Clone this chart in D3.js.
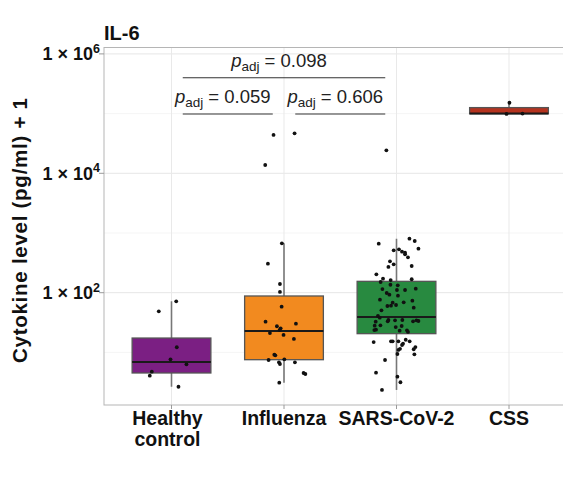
<!DOCTYPE html>
<html>
<head>
<meta charset="utf-8">
<script src="https://cdn.jsdelivr.net/npm/d3@7"></script>
<style>
  html, body { margin: 0; padding: 0; background: #fff; }
  svg { display: block; font-family: "Liberation Sans", Arial, Helvetica, sans-serif; }
</style>
</head>
<body>
<svg id="chart" width="563" height="477"></svg>
<script>
// ---------------- data ----------------
const title = "IL-6";
const yTitle = "Cytokine level (pg/ml) + 1";
const categories = ["Healthy\ncontrol", "Influenza", "SARS-CoV-2", "CSS"];
const fills = ["#7b1f83", "#f28a1f", "#288a40", "#b5331f"];

// box statistics (value + 1): [whiskerLow, q1, median, q3, whiskerHigh]
const boxHealthy   = [2.66, 4.52, 6.9, 17.4, 71.8];
const boxInfluenza = [3.11, 7.55, 22.8, 88.1, 672];
const boxSars      = [2.35, 20.6, 39.2, 155, 803];
const boxCss       = [98800, 99400, 100000, 126000, 152000];

// observations (value + 1) and horizontal jitter (category units)
const ptsHealthy = [71.8, 48.8, 12.2, 7.66, 6.32, 4.75, 4.07, 2.66];
const jitHealthy = [0.042, -0.113, 0.047, -0.009, 0.133, -0.175, -0.193, 0.062];

const ptsInfluenza = [43850, 46770, 13770, 672, 306, 140, 103, 58.3, 32.7, 30.3, 27.4, 25.3, 23.7,
  21.1, 19.6, 16.8, 9.15, 8.94, 7.46, 7.66, 6.82, 6.39, 6.82, 4.52, 4.35, 3.11];
const jitInfluenza = [-0.093, 0.094, -0.167, -0.019, -0.143, -0.036, -0.036, -0.021, -0.164, 0.106, -0.063, -0.030, -0.039,
  -0.125, -0.004, 0.088, -0.086, -0.077, -0.137, 0.003, -0.045, -0.036, 0.097, 0.174, 0.190, -0.042];

const ptsSars = [24270, 662, 803, 735, 546, 513, 533, 486, 468, 440, 392, 336, 270, 299, 280, 203, 172, 151, 163, 168,
  133, 136, 115, 111, 111, 117, 98.9, 92.5, 89.1, 76.3, 68.0, 69.0, 73.5, 59.9, 60.6, 62.2, 56.1, 50.7,
  40.7, 38.1, 32.7, 28.0, 28.4, 34.9, 33.2, 34.5, 34.9, 33.2, 34.5, 33.6, 24.0, 23.7, 26.6, 27.7, 23.1,
  23.4, 22.0, 15.3, 15.3, 15.3, 14.9, 14.0, 13.3, 16.3, 15.3, 11.5, 11.0, 12.3, 11.3, 9.29, 9.40, 7.46,
  4.57, 3.92, 3.16, 2.35];
const jitSars = [-0.090, -0.158, 0.115, 0.162, 0.195, -0.025, 0.022, 0.049, 0.076, 0.076, 0.102, -0.058, -0.072, -0.025, 0.135,
  -0.179, -0.120, -0.141, -0.052, 0.135, 0.011, -0.054, -0.125, 0.004, 0.076, 0.171, -0.087, -0.063, 0.013,
  -0.147, -0.034, 0.064, 0.141, -0.081, -0.049, -0.004, 0.153, -0.134, -0.165, -0.149, -0.185, -0.194,
  -0.143, -0.072, -0.078, -0.013, 0.052, 0.147, 0.177, 0.195, -0.182, -0.197, -0.007, 0.046, 0.028, 0.093,
  0.102, -0.049, -0.034, 0.017, -0.203, 0.058, 0.049, 0.082, 0.117, 0.031, 0.017, 0.168, 0.153, 0.159,
  0.008, -0.102, -0.182, 0.008, 0.035, -0.129];

const ptsCss = [152000, 98800, 100000];
const jitCss = [0.004, -0.022, 0.120];

// comparisons: group1 index, group2 index, p value, y position
const compFrom = [0, 1, 0];
const compTo   = [1, 2, 2];
const compP    = ["0.059", "0.606", "0.098"];
const compY    = [98500, 98500, 399000];

const yTicks = [1e2, 1e4, 1e6];
const yTickExp = ["2", "4", "6"];
const yMinor = [1e1, 1e3, 1e5];

// ---------------- layout ----------------
const svg = d3.select("#chart");
const pLeft = 104, pRight = 576.5, pTop = 47.5, pBottom = 405;

const x = d3.scaleLinear().domain([0.4, 4.6]).range([pLeft, pRight]);
const y = d3.scaleLog().domain([1.315, 1.28e6]).range([pBottom, pTop]);
const step = x(2) - x(1);
const boxW = 0.7 * step;

const boxes = [boxHealthy, boxInfluenza, boxSars, boxCss];
const pts = [ptsHealthy, ptsInfluenza, ptsSars, ptsCss];
const jit = [jitHealthy, jitInfluenza, jitSars, jitCss];

svg.append("clipPath").attr("id", "pc").append("rect")
  .attr("x", pLeft).attr("y", pTop).attr("width", pRight - pLeft).attr("height", pBottom - pTop);
const g = svg.append("g");

// gridlines
const grid = g.append("g").attr("clip-path", "url(#pc)");
grid.append("g").selectAll("line").data(yMinor).join("line")
  .attr("x1", pLeft).attr("x2", pRight).attr("y1", d => y(d)).attr("y2", d => y(d))
  .attr("stroke", "#f3f3f3").attr("stroke-width", 0.8);
grid.append("g").selectAll("line").data(yTicks).join("line")
  .attr("x1", pLeft).attr("x2", pRight).attr("y1", d => y(d)).attr("y2", d => y(d))
  .attr("stroke", "#e6e6e6").attr("stroke-width", 1);
grid.append("g").selectAll("line").data(categories).join("line")
  .attr("x1", (d, i) => x(i + 1)).attr("x2", (d, i) => x(i + 1))
  .attr("y1", pTop).attr("y2", pBottom)
  .attr("stroke", "#e9e9e9").attr("stroke-width", 1);

// boxes
const bx = g.append("g").attr("clip-path", "url(#pc)");
boxes.forEach((b, i) => {
  const cx = x(i + 1);
  const gg = bx.append("g");
  gg.append("line").attr("x1", cx).attr("x2", cx).attr("y1", y(b[3])).attr("y2", y(b[4]))
    .attr("stroke", "#777").attr("stroke-width", 1.6);
  gg.append("line").attr("x1", cx).attr("x2", cx).attr("y1", y(b[0])).attr("y2", y(b[1]))
    .attr("stroke", "#777").attr("stroke-width", 1.6);
  gg.append("rect").attr("x", cx - boxW / 2).attr("width", boxW)
    .attr("y", y(b[3])).attr("height", y(b[1]) - y(b[3]))
    .attr("fill", fills[i]).attr("stroke", "#555").attr("stroke-width", 1.3);
  gg.append("line").attr("x1", cx - boxW / 2).attr("x2", cx + boxW / 2)
    .attr("y1", y(b[2])).attr("y2", y(b[2]))
    .attr("stroke", "#1a1a1a").attr("stroke-width", 2);
});

// points
pts.forEach((arr, i) => {
  bx.append("g").selectAll("circle").data(arr).join("circle")
    .attr("cx", (d, j) => x(i + 1 + jit[i][j]))
    .attr("cy", d => y(d))
    .attr("r", 1.9)
    .attr("fill", "#111");
});

// panel border
g.append("rect").attr("x", pLeft).attr("y", pTop).attr("width", pRight - pLeft).attr("height", pBottom - pTop)
  .attr("fill", "none").attr("stroke", "#b5b5b5").attr("stroke-width", 1);

// y axis ticks & labels
const yAx = g.append("g");
yAx.selectAll("line").data(yTicks).join("line")
  .attr("x1", pLeft - 5).attr("x2", pLeft).attr("y1", d => y(d)).attr("y2", d => y(d))
  .attr("stroke", "#9a9a9a").attr("stroke-width", 1);
const yl = yAx.selectAll("text").data(yTicks).join("text")
  .attr("x", 100).attr("y", d => y(d) + 6.5)
  .attr("text-anchor", "end").attr("font-weight", "bold").attr("font-size", 18).attr("fill", "#111");
yl.append("tspan").text("1 \u00d7 10");
yl.append("tspan").attr("font-size", 12.5).attr("dy", -7.5).text((d, i) => yTickExp[i]);

// x axis ticks & labels
const xAx = g.append("g");
xAx.selectAll("line").data(categories).join("line")
  .attr("x1", (d, i) => x(i + 1)).attr("x2", (d, i) => x(i + 1))
  .attr("y1", pBottom).attr("y2", pBottom + 4)
  .attr("stroke", "#9a9a9a").attr("stroke-width", 1);
const xl = xAx.selectAll("text").data(categories).join("text")
  .attr("x", (d, i) => x(i + 1)).attr("y", 425)
  .attr("text-anchor", "middle").attr("font-weight", "bold").attr("font-size", 19.5).attr("fill", "#111");
xl.each(function (d, i) {
  const t = d3.select(this);
  d.split("\n").forEach((line, k) => {
    t.append("tspan").attr("x", x(i + 1) - (i === 0 ? 4 : 0)).attr("dy", k === 0 ? 0 : 21).text(line);
  });
});

// titles
svg.append("text").attr("x", 104).attr("y", 40).attr("font-weight", "bold").attr("font-size", 20)
  .attr("fill", "#111").text(title);
svg.append("text").attr("transform", "translate(27,230.5) rotate(-90)")
  .attr("text-anchor", "middle").attr("font-weight", "bold").attr("font-size", 20.5)
  .attr("textLength", 265).attr("lengthAdjust", "spacing")
  .attr("fill", "#111").text(yTitle);

// comparisons
const shorten = 0.1;
compP.forEach((p, k) => {
  const x1 = x(compFrom[k] + 1 + shorten), x2 = x(compTo[k] + 1 - shorten);
  const yy = y(compY[k]);
  g.append("line").attr("x1", x1).attr("x2", x2).attr("y1", yy).attr("y2", yy)
    .attr("stroke", "#333").attr("stroke-width", 1.1);
  const t = g.append("text").attr("x", (x1 + x2) / 2 - 5).attr("y", yy - 11)
    .attr("text-anchor", "middle").attr("font-size", 18.5).attr("fill", "#222");
  t.append("tspan").attr("font-style", "italic").text("p");
  t.append("tspan").attr("font-size", 13.5).attr("dy", 4).text("adj");
  t.append("tspan").attr("dy", -4).text(" = " + p);
});
</script>
</body>
</html>
